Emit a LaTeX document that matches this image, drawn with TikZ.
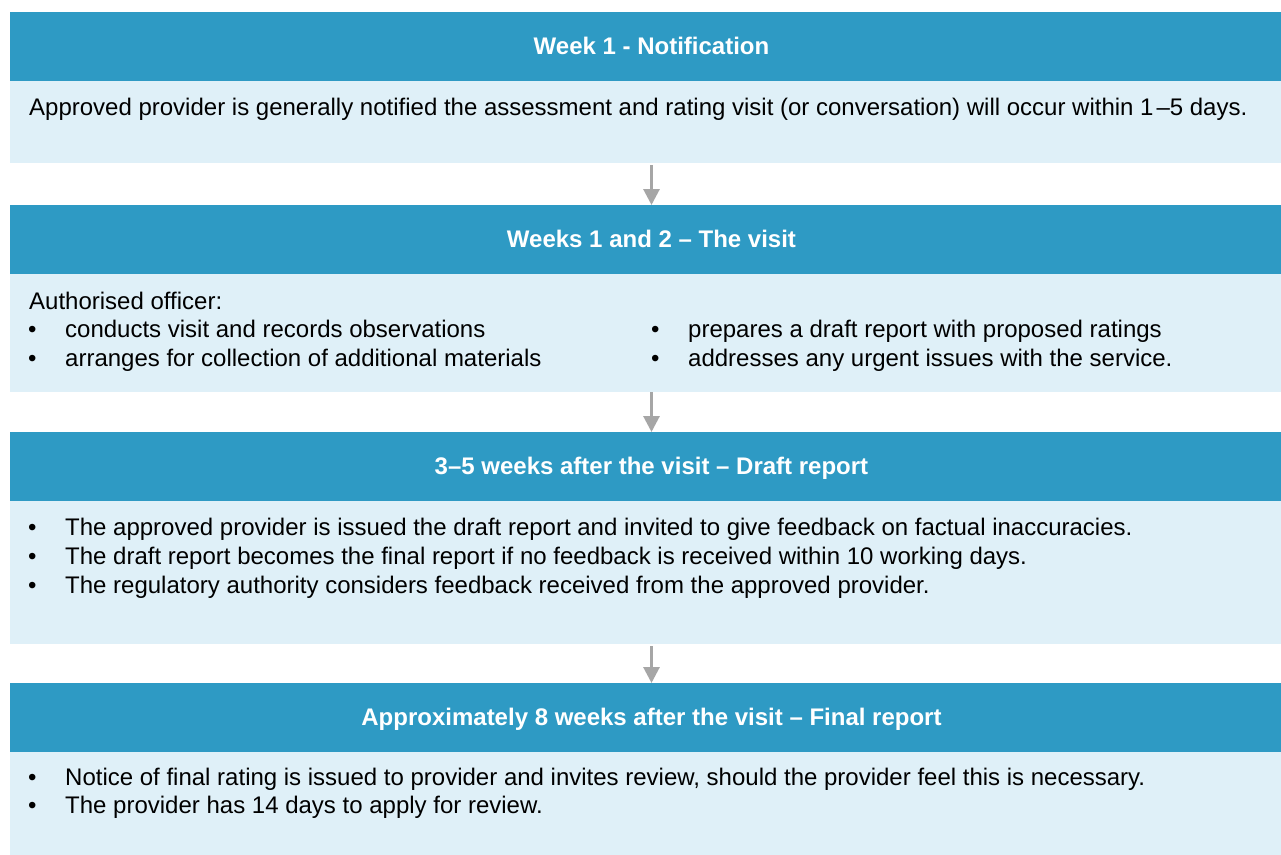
\documentclass[tikz,border=0pt]{standalone}
\usepackage{fontspec}
\setmainfont{Liberation Sans}
\usetikzlibrary{arrows.meta}
\definecolor{hdrblue}{RGB}{46,154,196}
\definecolor{bodyblue}{RGB}{223,240,248}
\definecolor{arrowgray}{RGB}{166,166,166}
\newcommand{\bul}{\makebox[37bp][l]{•}}
\begin{document}
\begin{tikzpicture}[x=1bp,y=-1bp,
  hdr/.style={fill=hdrblue, draw=none, anchor=north west, minimum width=1271bp, inner sep=0pt, outer sep=0pt},
  bodybox/.style={fill=bodyblue, draw=none, anchor=north west, minimum width=1271bp, inner sep=0pt, outer sep=0pt},
  title/.style={font=\fontsize{24bp}{29bp}\selectfont\bfseries, text=white, anchor=base, inner sep=0pt},
  txt/.style={font=\fontsize{24bp}{29bp}\selectfont, text=black, anchor=base west, inner sep=0pt},
  flow/.style={draw=arrowgray, line width=3bp, -{Triangle[length=16bp,width=16bp]}}
]
\useasboundingbox[fill=white] (0,0) rectangle (1281,855);

% boxes
\node[hdr, minimum height=69bp] (h1) at (10,12) {};
\node[bodybox, minimum height=82bp] (b1) at (10,81) {};
\node[hdr, minimum height=69bp] (h2) at (10,205) {};
\node[bodybox, minimum height=118bp] (b2) at (10,274) {};
\node[hdr, minimum height=69bp] (h3) at (10,432) {};
\node[bodybox, minimum height=143bp] (b3) at (10,501) {};
\node[hdr, minimum height=69bp] (h4) at (10,683) {};
\node[bodybox, minimum height=103bp] (b4) at (10,752) {};

% titles
\node[title] (t1) at (651.5,54.3) {Week 1 - Notification};
\node[title] (t2) at (651.5,247.3) {Weeks 1 and 2 – The visit};
\node[title] (t3) at (651.5,474.3) {3–5 weeks after the visit – Draft report};
\node[title] (t4) at (651.5,725.3) {Approximately 8 weeks after the visit – Final report};

% body 1
\node[txt] (p1) at (29,115) {Approved provider is generally notified the assessment and rating visit (or conversation) will occur within 1\hspace{3bp}–5 days.};

% body 2
\node[txt] (p2) at (29,309) {Authorised officer:};
\node[txt] (p2a) at (28,337) {\bul conducts visit and records observations};
\node[txt] (p2b) at (28,366) {\bul arranges for collection of additional materials};
\node[txt] (p2c) at (651,337) {\bul prepares a draft report with proposed ratings};
\node[txt] (p2d) at (651,366) {\bul addresses any urgent issues with the service.};

% body 3
\node[txt] (p3a) at (28,535) {\bul The approved provider is issued the draft report and invited to give feedback on factual inaccuracies.};
\node[txt] (p3b) at (28,564) {\bul The draft report becomes the final report if no feedback is received within 10 working days.};
\node[txt] (p3c) at (28,593) {\bul The regulatory authority considers feedback received from the approved provider.};

% body 4
\node[txt] (p4a) at (28,785) {\bul Notice of final rating is issued to provider and invites review, should the provider feel this is necessary.};
\node[txt] (p4b) at (28,813) {\bul The provider has 14 days to apply for review.};

% arrows
\draw[flow] ([yshift=-2bp]b1.south -| t1) -- (h2.north -| t1);
\draw[flow] (b2.south -| t1) -- (h3.north -| t1);
\draw[flow] ([yshift=-2bp]b3.south -| t1) -- (h4.north -| t1);
\end{tikzpicture}
\end{document}
